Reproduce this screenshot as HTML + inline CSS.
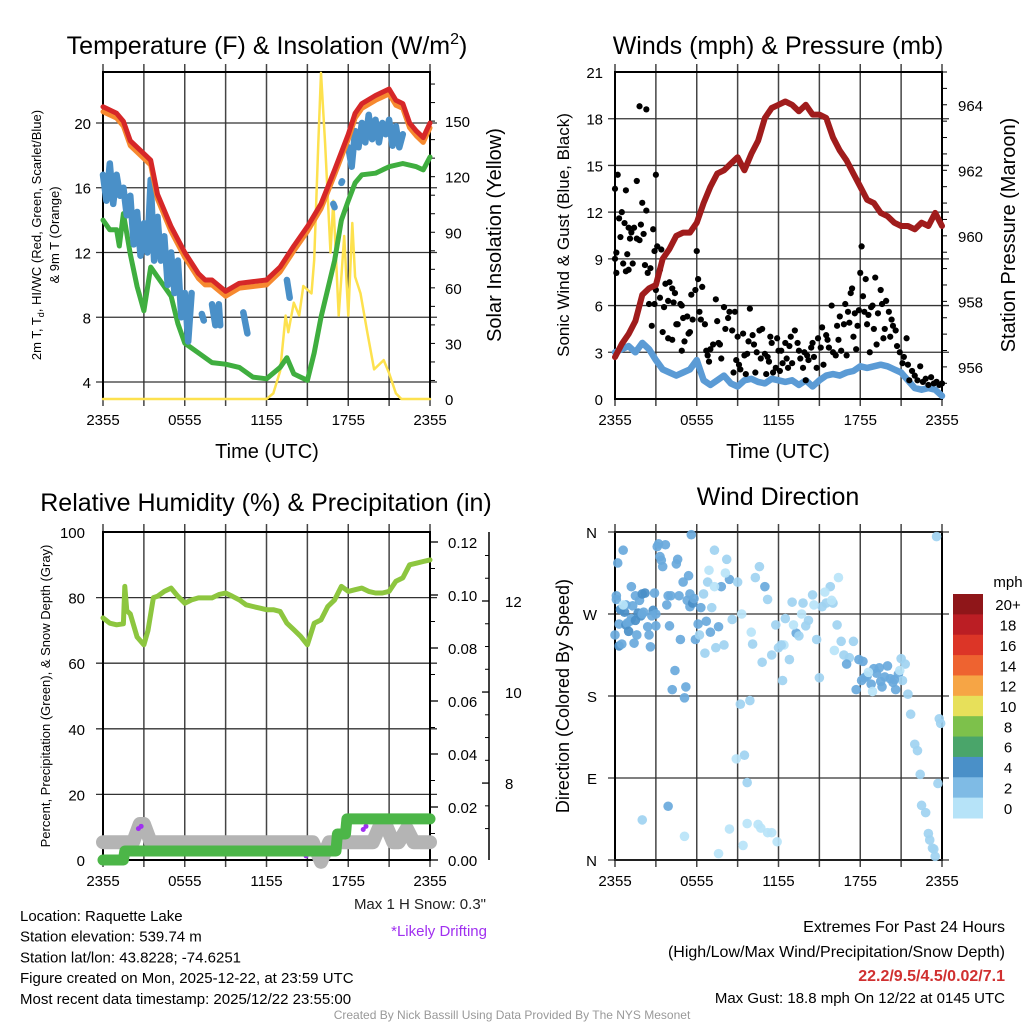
<!DOCTYPE html>
<html><head><meta charset="utf-8"><style>
body{margin:0;background:#fff;width:1024px;height:1024px;overflow:hidden;font-family:"Liberation Sans",sans-serif}
svg{display:block}
</style></head><body>
<svg id="c" width="1024" height="1024" viewBox="0 0 1024 1024" xmlns="http://www.w3.org/2000/svg" font-family="Liberation Sans, sans-serif"></svg>
<script>
// ---------- DATA ----------
const hourTicks = ["2355","0555","1155","1755","2355"];
const tempHours = [0,1,1.5,2,3,3.5,4,5,6,7,7.5,8,9,10,11,12,13,14,15,16,17,18,18.5,19,20,21,21.5,22,22.5,23,23.5,24];
const tempRed = [21.0,20.6,20.1,18.9,18.1,17.7,15.6,13.6,12.0,10.7,10.3,10.3,9.6,10.1,10.2,10.3,11.1,12.4,13.6,15.0,17.1,19.3,20.6,21.2,21.7,22.1,21.4,21.2,20.0,19.5,19.1,20.0];
const tempOrange = [20.7,20.3,19.8,18.6,17.8,17.4,15.3,13.3,11.7,10.4,10.0,10.0,9.3,9.8,9.9,10.0,10.8,12.1,13.3,14.7,16.8,19.0,20.3,20.9,21.4,21.8,21.1,20.9,19.7,19.2,18.8,19.7];
const tdHours = [0,0.5,1,1.2,1.5,2,2.5,3,3.5,4,5,5.5,6,7,8,9,10,11,12,13,13.5,14,15,15.5,16,17,17.5,18,18.5,19,20,21,22,23,23.5,24];
const tdGreen = [14.0,13.4,13.4,12.4,14.4,11.9,9.9,8.4,11.1,10.5,9.3,7.6,6.4,5.8,5.2,5.1,4.9,4.3,4.2,4.9,5.5,4.5,4.1,5.8,8.0,11.5,14.0,15.2,16.3,16.8,16.9,17.3,17.5,17.3,17.1,17.9];
const wcHours = [0,0.25,0.5,0.75,1,1.25,1.5,1.75,2,2.25,2.5,2.75,3,3.25,3.5,3.75,4,4.25,4.5,4.75,5,5.25,5.5,5.75,6,6.25,6.5,6.6,7.25,7.4,7.5,8,8.25,8.5,8.6,8.7,10.3,10.6,10.7,13.5,13.7,13.8,16.9,17.0,17.1,17.5,17.55,17.6,18,18.25,18.5,18.75,19,19.25,19.5,19.75,20,20.25,20.5,20.75,21,21.25,21.5,21.75,22];
const wcBlue = [16.8,15.2,17.5,15,16.8,15.5,16,14.3,15.5,12.5,14.5,11.8,13.8,12,16.5,11.5,14.2,11.5,13,10,12,9.5,11.5,8,9.5,6.5,9.5,null,8.2,7.8,null,8.8,7.5,8.8,7.5,null,8.3,7.0,null,10.3,9.2,null,15.0,14.8,null,16.3,16.4,null,18.5,17.3,19.5,18.5,20,18.8,20.5,19,20.2,18.8,20,19.3,20.2,18.6,19.8,18.5,19.3];
const solarHours = [0,12,12.5,13,13.4,13.6,14,14.4,14.7,15.3,15.5,15.8,16.0,16.3,16.7,16.9,17.3,17.7,18.0,18.3,18.5,18.9,19.4,19.9,20.6,21.0,21.5,21.9,24];
const solarVals = [0,0,3,15,45,36,52,45,61,57,75,138,176,138,79,107,45,88,45,95,66,57,36,16,21,14,3,0,0];

const presHours = [0,0.5,1,1.5,2,2.5,3,3.5,4,4.5,5,5.5,6,6.5,7,7.5,8,8.5,9,9.5,10,10.5,11,11.5,12,12.5,13,13.5,14,14.5,15,15.5,16,16.5,17,17.5,18,18.5,19,19.5,20,20.5,21,21.5,22,22.5,23,23.5,24];
const presVals = [956.3,956.7,957.0,957.4,958.2,958.4,958.5,959.3,959.6,960.0,960.1,960.1,960.4,961.0,961.5,961.9,962.0,962.2,962.4,962.0,962.5,962.9,963.6,963.9,964.0,964.1,964.0,963.8,964.0,963.7,963.7,963.6,963.0,962.6,962.3,961.9,961.5,961.1,961.0,960.7,960.6,960.4,960.3,960.3,960.2,960.4,960.3,960.7,960.3];
const windVals = [3.0,3.2,3.4,3.0,3.6,3.2,2.5,1.9,1.7,1.5,1.7,1.9,2.5,1.2,0.9,1.2,1.5,1.0,0.8,1.2,1.3,1.1,1.0,1.3,1.2,1.1,1.2,0.9,1.2,0.8,1.2,1.5,1.6,1.5,1.7,1.8,2.1,2.0,2.1,2.2,2.1,1.9,1.7,1.2,0.7,0.6,0.7,0.6,0.2];
const gustHours = [0,0,0.1,0.1,0.2,0.3,0.4,0.5,0.6,0.7,0.8,0.8,0.9,1,1,1.1,1.2,1.3,1.4,1.6,1.6,1.8,1.9,2,2.1,2.2,2.3,2.4,1.8,2.3,2.5,2.6,2.7,2.8,2.9,2.9,3.0,3.0,3.1,3.3,3.3,3.4,3.5,3.6,3.7,3.9,3.9,4.0,4.2,4.2,4.3,4.4,4.5,4.6,4.8,4.9,4.9,5.0,5.1,5.3,5.4,5.5,5.6,5.7,5.9,6.0,6.1,6.2,6.3,6.4,6.6,6.7,6.8,6.9,7.0,7.2,7.4,7.5,7.6,7.7,7.8,8.0,8.1,8.3,8.4,8.6,8.7,8.8,8.9,9.0,9.1,9.2,9.4,9.5,9.6,9.7,9.8,9.9,10.1,10.2,10.3,10.4,10.6,10.7,10.8,11.0,11.1,11.2,11.3,11.4,11.5,11.6,11.8,11.9,12.0,12.1,12.2,12.3,12.5,12.6,12.7,12.8,12.9,13.0,13.2,13.4,13.5,13.6,13.8,13.9,14.0,14.1,14.2,14.4,14.5,14.6,14.8,14.9,15.1,15.2,15.3,15.5,15.6,15.7,15.9,16.0,16.2,16.3,16.4,16.5,16.6,16.8,16.9,17.0,17.1,17.2,17.3,17.4,17.5,17.6,17.7,17.8,17.9,18.0,18.1,18.2,18.3,18.4,18.5,18.6,18.7,18.8,18.9,19.0,19.1,19.2,19.3,19.5,19.6,19.7,19.8,19.9,20.1,20.2,20.3,20.4,20.6,20.7,20.9,21.1,21.2,21.4,21.5,21.6,21.8,22.0,22.2,22.4,22.6,22.8,23.0,23.2,23.4,23.6,23.8,24];
const gustVals = [13.5,9,8.1,9.4,14.4,11.6,10.4,12,8.7,11.3,13.4,8.2,9.3,11,8.3,10.3,10.7,8.7,11,14,10.3,10.2,11.2,12.6,10.6,8.6,12.1,8.1,18.8,18.6,6.1,8.4,4.7,10.9,6.1,9.5,7,14.4,9.8,8.3,6.5,9.6,4.3,5.9,7.4,6.3,3.9,7.5,7.1,3.8,6.2,6.8,4.8,4.8,6.1,6.0,3.1,5.2,3.7,5.3,4.2,4.3,6.7,5.1,7.0,9.5,7.7,5.6,5.1,7.2,4.8,3.1,2.8,2.4,3.2,3.5,6.4,5.0,3.6,3.5,2.6,5.9,4.5,5.2,5.6,4.4,1.7,5.6,2.5,4.0,2.2,1.9,4.2,2.8,1.6,2.9,3.7,5.8,4.1,3.5,1.7,3.0,4.4,2.6,4.5,2.9,1.6,2.7,2.4,4.0,3.6,1.7,2.0,3.9,3.1,1.8,3.1,2.3,3.6,2.6,2.0,3.4,4.0,2.3,4.4,3.6,3.1,2.6,2.0,3.0,1.2,2.8,2.5,3.3,3.6,2.7,2.0,3.9,3.3,4.6,2.2,4.1,3.8,3.3,6.0,3.0,2.8,4.7,3.8,5.3,3.1,4.8,6.1,2.8,5.6,4.9,6.8,7.1,4.0,5.5,3.2,4.7,5.7,8.1,9.8,6.6,5.6,7.7,4.8,5.4,3.0,5.9,6.0,4.5,7.8,3.5,5.5,7.0,6.1,3.9,4.5,6.3,5.6,4.0,5.1,4.7,4.4,3.4,3.0,2.3,2.7,3.9,2.2,1.2,1.8,1.5,1.2,2.1,1.1,1.3,0.9,1.4,1.0,1.1,0.9,1.0];

const rhHours = [0,0.5,1,1.5,1.6,1.75,2,2.5,3,3.3,3.7,4,4.5,5,5.5,6,6.5,7,7.5,8,8.5,9,9.5,10,10.5,11,11.5,12,12.5,13,13.5,14,14.5,15,15.5,16,16.5,17,17.5,18,18.5,19,19.5,20,20.5,21,21.5,22,22.5,23,23.5,24];
const rhVals = [73.8,72.2,71.7,72,83.4,76,75,68,65.6,70,80,80.4,81.9,82.9,80.4,78.3,79.3,79.9,79.9,79.9,80.9,81.4,80.4,79.3,77.8,77.3,76.8,76.3,76.3,75.8,72.2,70.2,68.2,65.6,72.2,73.2,77.3,79.3,83.4,81.9,82.4,82.9,81.9,81.4,81.4,81.9,85.0,86,90,90.5,91,91.5];
const precipHours = [0,1.5,1.6,17.1,17.2,17.8,17.9,24];
const precipVals = [0.0,0.0,0.0034,0.0034,0.0098,0.0098,0.0155,0.0155];
const snowHours = [0,2.2,2.7,3.0,3.5,15.4,16.0,16.6,19.8,20.3,20.8,21.3,21.7,22.3,22.8,23.2,24];
const snowVals = [6.7,6.7,7.1,7.1,6.7,6.7,6.27,6.7,6.7,7.05,7.05,6.7,6.7,7.0,6.7,6.7,6.7];
const driftHours = [2.6,2.8,14.9,19.1,19.3];
const driftVals = [7.0,7.05,6.4,6.98,7.05];

const dirHours = [0,0.1,0.1,0.2,0.3,0.3,0.4,0.5,0.6,0.7,0.8,0.8,0.9,1,1.1,1.2,1.3,1.4,1.5,1.5,1.6,1.7,1.8,1.9,2,2,2.1,2.2,2.4,2.5,2.6,2.8,2.9,3.0,3.0,3.1,3.2,3.3,3.4,3.5,3.7,3.8,3.9,4.0,4.1,4.2,4.4,4.5,4.7,4.8,5.0,5.1,5.2,5.3,5.4,5.5,5.6,5.7,5.8,5.9,6.1,6.2,6.3,6.5,6.6,6.8,7.0,7.1,7.3,7.4,7.6,7.8,8.0,8.2,8.4,8.6,9.0,9.2,9.5,9.7,8.9,9.9,10.1,10.3,10.6,10.8,11.0,11.2,11.5,11.8,12.0,12.3,12.5,12.8,13.0,13.3,13.5,13.8,14.0,14.2,14.5,14.8,15.0,15.2,15.5,15.8,16.0,16.3,16.6,16.8,17.2,17.5,17.7,17.9,18.1,18.3,18.5,18.8,19.0,19.2,19.5,19.8,20.0,20.2,20.4,20.6,20.8,21.0,21.1,21.3,21.5,21.7,22.0,22.2,22.4,22.5,22.8,23.0,23.1,23.3,23.4,23.5,23.6,23.8,23.9,23.7,2.0,3.9,5.1,7.6,8.4,9.4,9.7,10.5,10.7,11.2,11.5,11.9,18.9,19.6,17.0,16.1,6.9,7.3,9.3,10.0,12.4,13.1,14.6,15.4,16.4,18.6,19.4,20.5,0.6,1.2,2.7,4.6,5.5,6.7,8.1,12.2,13.7,15.9,18.2,20.9];
const dirDeg = [247,286,290,326,259,235,275,237,340,272,258,280,260,251,262,265,279,238,263,290,247,271,285,268,292,270,272,293,256,247,234,274,293,270,257,344,347,333,329,322,346,280,290,257,290,187,208,325,290,242,305,178,190,285,312,278,357,282,287,242,259,247,277,292,227,305,250,277,340,233,256,300,236,330,308,264,305,171,115,85,111,175,237,310,322,217,300,286,225,258,233,197,265,220,283,249,246,282,257,263,291,242,200,278,282,300,282,258,240,225,222,240,187,220,197,200,202,193,210,205,196,201,213,199,195,187,204,221,197,215,182,160,127,120,94,60,52,29,22,13,12,4,355,155,150,84,44,59,26,7,34,16,40,39,35,30,30,20,185,190,215,230,318,300,270,250,236,258,280,294,310,206,211,198,280,300,268,330,292,262,315,236,270,285,218,208];
const dirSpeed = [3,3,3,3,3,4,4,3,3,4,4,3,3,4,3,3,3,3,4,3,3,4,3,4,4,3,3,4,3,3,3,4,3,3,3,3,3,3,3,3,3,3,3,3,3,3,3,3,3,3,3,3,3,3,3,3,3,4,3,3,3,2,3,2,2,2,3,2,2,2,3,3,2,2,3,2,2,2,2,2,1,2,2,2,2,2,3,2,2,2,2,2,2,2,2,3,2,2,2,2,2,2,2,2,2,2,2,2,2,2,2,2,3,3,3,3,3,3,3,3,3,3,3,3,3,3,3,2,2,2,2,2,2,2,2,2,2,2,2,2,2,2,2,2,2,2,2,3,1,1,1,1,1,1,1,1,1,1,1,3,3,1,1,1,1,1,1,1,1,1,1,1,3,3,1,3,3,3,3,3,1,2,1,1,3,1];

const cbLabels = ["20+","18","16","14","12","10","8","6","4","2","0"];
const cbColors = ["#8f1619","#bb1e24","#dc3527","#ee6330","#f6a545","#e7e05a","#7dc14b","#4aa56a","#4a90c8","#7fbbe5","#b6e3f8"];

// ---------- HELPERS ----------
const svg = document.getElementById('c');
const NS = 'http://www.w3.org/2000/svg';
function mk(tag, attrs, name, parent) {
  const el = document.createElementNS(NS, tag);
  for (const k in attrs) el.setAttribute(k, attrs[k]);
  
  
  (parent || svg).appendChild(el);
  return el;
}
function txt(x, y, s, size, name, opts) {
  opts = opts || {};
  const t = mk('text', {x: x, y: y, 'font-size': size, fill: opts.fill || '#000', 'text-anchor': opts.anchor || 'start', 'font-weight': opts.weight || 'normal'}, name);
  if (opts.rot) t.setAttribute('transform', 'rotate(-90 ' + x + ' ' + y + ')');
  t.textContent = s;
  return t;
}
function lin(d0, d1, r0, r1) { return v => r0 + (v - d0) / (d1 - d0) * (r1 - r0); }
function line(xs, ys, sx, sy, color, w, name) {
  let segs = [], cur = [];
  for (let i = 0; i < xs.length; i++) {
    if (ys[i] === null) { if (cur.length) segs.push(cur); cur = []; continue; }
    cur.push(sx(xs[i]).toFixed(1) + ',' + sy(ys[i]).toFixed(1));
  }
  if (cur.length) segs.push(cur);
  segs.forEach(s => {
    if (s.length === 1) s.push(s[0]);
    mk('polyline', {points: s.join(' '), fill: 'none', stroke: color, 'stroke-width': w, 'stroke-linejoin': 'round', 'stroke-linecap': 'round'}, name);
  });
}
function frame(x0, x1, y0, y1, name, hgrid) {
  const sx = lin(0, 24, x0, x1);
  for (let h = 0; h <= 24; h += 3) {
    mk('line', {x1: sx(h), x2: sx(h), y1: y0 - 8, y2: y1 + 7, stroke: '#444', 'stroke-width': 1.5}, name + '-vgrid');
  }
  hgrid.forEach(y => mk('line', {x1: x0 - 7, x2: x1 + 7, y1: y, y2: y, stroke: '#333', 'stroke-width': 1.3}, name + '-hgrid'));
  mk('rect', {x: x0, y: y0, width: x1 - x0, height: y1 - y0, fill: 'none', stroke: '#000', 'stroke-width': 2}, name + '-frame');
  hourTicks.forEach((t, i) => txt(sx(i * 6), y1 + 26, t, 15, name + '-x-tick', {anchor: 'middle'}));
  return sx;
}

// ---------- TOP-LEFT: Temperature ----------
(function(){
  const x0 = 103, x1 = 430, y0 = 72, y1 = 399;
  const sy = lin(2.95, 23.15, y1, y0);
  const ss = lin(0, 176.5, y1, y0);
  const sx = frame(x0, x1, y0, y1, 'temp', [4,8,12,16,20].map(sy));
  [4,8,12,16,20].forEach(v => txt(x0 - 12, sy(v) + 6, String(v), 15, 'temp-y-tick', {anchor: 'end'}));
  [0,30,60,90,120,150].forEach(v => txt(x1 + 15, ss(v) + 6, String(v), 15, 'solar-y-tick'));
  for (let v = 10; v <= 170; v += 10) mk('line', {x1: x1, x2: x1 + 5, y1: ss(v), y2: ss(v), stroke: '#000', 'stroke-width': 1}, 'solar-minor-tick');
  line(solarHours, solarVals, sx, ss, '#fde14e', 2.5, 'solar-line');
  line(tdHours, tdGreen, sx, sy, '#3fae3f', 5, 'dewpoint-line');
  line(wcHours, wcBlue, sx, sy, '#4a90c8', 6.5, 'windchill-line');
  line(tempHours, tempOrange, sx, sy, '#f6892f', 5, 'temp-9m-line');
  line(tempHours, tempRed, sx, sy, '#d62728', 5, 'temp-2m-line');
  const t = mk('text', {x: 0, y: 0, 'font-size': 25, 'text-anchor': 'middle', transform: 'translate(267,54)'}, 'temp-title');
  t.innerHTML = 'Temperature (F) &amp; Insolation (W/m<tspan dy="-10" font-size="16">2</tspan><tspan dy="10">)</tspan>';
  txt(267, 458, 'Time (UTC)', 20, 'temp-x-title', {anchor: 'middle'});
  const yl = mk('text', {x: 0, y: 0, 'font-size': 13, 'text-anchor': 'middle', transform: 'translate(41,235) rotate(-90)'}, 'temp-y-title');
  yl.innerHTML = '2m T, T<tspan dy="3" font-size="9">d</tspan><tspan dy="-3">, HI/WC (Red, Green, Scarlet/Blue)</tspan>';
  txt(59, 235, '& 9m T (Orange)', 13, 'temp-y-title-2', {anchor: 'middle', rot: true});
  txt(501, 235, 'Solar Insolation (Yellow)', 20, 'solar-y-title', {anchor: 'middle', rot: true});
})();

// ---------- TOP-RIGHT: Winds ----------
(function(){
  const x0 = 615, x1 = 942, y0 = 72, y1 = 399;
  const sy = lin(0, 21, y1, y0);
  const sp = lin(955.02, 965.0, y1, y0);
  const sx = frame(x0, x1, y0, y1, 'wind', [3,6,9,12,15,18].map(sy));
  [0,3,6,9,12,15,18,21].forEach(v => txt(x0 - 12, sy(v) + 6, String(v), 15, 'wind-y-tick', {anchor: 'end'}));
  [956,958,960,962,964].forEach(v => txt(x1 + 16, sp(v) + 6, String(v), 15, 'pressure-y-tick'));
  for (let v = 955.5; v <= 965; v += 0.5) mk('line', {x1: x1, x2: x1 + 5, y1: sp(v), y2: sp(v), stroke: '#000', 'stroke-width': 1}, 'pressure-minor-tick');
  line(presHours, windVals, sx, sy, '#5b9bd5', 6.5, 'wind-speed-line');
  gustHours.forEach((h, i) => {
    mk('circle', {cx: sx(h), cy: sy(gustVals[i]), r: 3.1, fill: '#000'}, 'gust-point');
  });
  line(presHours, presVals, sx, sp, '#a01c1c', 6, 'pressure-line');
  txt(778, 54, 'Winds (mph) & Pressure (mb)', 25, 'wind-title', {anchor: 'middle'});
  txt(778, 458, 'Time (UTC)', 20, 'wind-x-title', {anchor: 'middle'});
  txt(569, 235, 'Sonic Wind & Gust (Blue, Black)', 17, 'wind-y-title', {anchor: 'middle', rot: true});
  txt(1015, 235, 'Station Pressure (Maroon)', 20, 'pressure-y-title', {anchor: 'middle', rot: true});
})();

// ---------- BOTTOM-LEFT: RH ----------
(function(){
  const x0 = 103, x1 = 430, y0 = 532, y1 = 860;
  const sy = lin(0, 100, y1, y0);
  const spr = lin(0, 0.12, y1, 542);
  const ssn = lin(6.31, 12, y1, 601);
  const sx = frame(x0, x1, y0, y1, 'rh', [20,40,60,80].map(sy));
  [0,20,40,60,80,100].forEach(v => txt(x0 - 18, sy(v) + 6, String(v), 15, 'rh-y-tick', {anchor: 'end'}));
  [0,0.02,0.04,0.06,0.08,0.10,0.12].forEach(v => {
    mk('line', {x1: x1, x2: x1 + 8, y1: spr(v), y2: spr(v), stroke: '#000', 'stroke-width': 1.3}, 'precip-tick');
    txt(x1 + 18, spr(v) + 6, v.toFixed(2), 15, 'precip-y-tick');
  });
  for (let v = 0.01; v < 0.12; v += 0.02) mk('line', {x1: x1, x2: x1 + 5, y1: spr(v), y2: spr(v), stroke: '#000', 'stroke-width': 1}, 'precip-minor-tick');
  mk('line', {x1: 489, x2: 489, y1: y0, y2: y1, stroke: '#000', 'stroke-width': 1.5}, 'snow-axis');
  [8,10,12].forEach(v => {
    mk('line', {x1: 489, x2: 482, y1: ssn(v), y2: ssn(v), stroke: '#000', 'stroke-width': 1.3}, 'snow-tick');
    txt(505, ssn(v) + 6, String(v), 15, 'snow-y-tick');
  });
  for (let v = 7; v < 13.5; v += 0.5) if (v % 2) mk('line', {x1: 489, x2: 485, y1: ssn(v), y2: ssn(v), stroke: '#000', 'stroke-width': 1}, 'snow-minor-tick');
  line(snowHours, snowVals, sx, ssn, '#b4b4b4', 14, 'snow-depth-line');
  driftHours.forEach((h, i) => mk('circle', {cx: sx(h), cy: ssn(driftVals[i]), r: 2.5, fill: '#a030f0'}, 'drift-marker'));
  line(precipHours, precipVals, sx, spr, '#4cb648', 11, 'precip-line');
  line(rhHours, rhVals, sx, sy, '#8dc63f', 5, 'rh-line');
  txt(266, 511, 'Relative Humidity (%) & Precipitation (in)', 25, 'rh-title', {anchor: 'middle'});
  txt(50, 696, 'Percent, Precipitation (Green), & Snow Depth (Gray)', 13, 'rh-y-title', {anchor: 'middle', rot: true});
})();

// ---------- BOTTOM-RIGHT: Direction ----------
(function(){
  const x0 = 615, x1 = 942, y0 = 532, y1 = 860;
  const sy = lin(0, 360, y1, y0);
  const sx = frame(x0, x1, y0, y1, 'dir', [90,180,270].map(sy));
  mk('line', {x1: x0 - 7, x2: x1 + 7, y1: y0, y2: y0, stroke: '#333', 'stroke-width': 1.3}, 'dir-hgrid');
  mk('line', {x1: x0 - 7, x2: x1 + 7, y1: y1, y2: y1, stroke: '#333', 'stroke-width': 1.3}, 'dir-hgrid');
  const lab = ['N','E','S','W','N'];
  [0,90,180,270,360].forEach((v, i) => txt(x0 - 18, sy(v) + 6, lab[i], 15, 'dir-y-tick', {anchor: 'end'}));
  dirHours.forEach((h, i) => {
    const s = dirSpeed[i];
    const col = s >= 4 ? '#4a8fc8' : s >= 3 ? '#69a9dc' : s >= 2 ? '#9fd2f1' : '#b9e4f8';
    mk('circle', {cx: sx(h), cy: sy(dirDeg[i]), r: 4.8, fill: col, opacity: 0.92}, 'dir-point');
  });
  txt(778, 505, 'Wind Direction', 25, 'dir-title', {anchor: 'middle'});
  txt(569, 696, 'Direction (Colored By Speed)', 18, 'dir-y-title', {anchor: 'middle', rot: true});
  const bx = 953, by = 594, bh = 224 / cbColors.length;
  cbColors.forEach((c, i) => {
    mk('rect', {x: bx, y: by + i * bh, width: 30, height: bh + 0.5, fill: c}, 'colorbar-box');
    txt(1008, by + i * bh + bh / 2 + 6, cbLabels[i], 15, 'colorbar-label', {anchor: 'middle'});
  });
  txt(1008, 587, 'mph', 15, 'colorbar-title', {anchor: 'middle'});
})();

// ---------- TEXT ----------
const info = ['Location: Raquette Lake','Station elevation: 539.74 m','Station lat/lon: 43.8228; -74.6251','Figure created on Mon, 2025-12-22, at 23:59 UTC','Most recent data timestamp: 2025/12/22 23:55:00'];
info.forEach((s, i) => txt(20, 921 + i * 20.7, s, 15, 'station-info-line'));
txt(486, 909, 'Max 1 H Snow: 0.3"', 15, 'max-snow-text', {anchor: 'end', fill: '#222'});
txt(487, 936, '*Likely Drifting', 15, 'drifting-note', {anchor: 'end', fill: '#a030f0'});
txt(1005, 932, 'Extremes For Past 24 Hours', 16, 'extremes-title', {anchor: 'end'});
txt(1005, 957, '(High/Low/Max Wind/Precipitation/Snow Depth)', 16, 'extremes-subtitle', {anchor: 'end'});
txt(1005, 981, '22.2/9.5/4.5/0.02/7.1', 16, 'extremes-values', {anchor: 'end', fill: '#d03030', weight: 'bold'});
txt(1005, 1003, 'Max Gust: 18.8 mph On 12/22 at 0145 UTC', 15, 'max-gust-text', {anchor: 'end'});
txt(512, 1019, 'Created By Nick Bassill Using Data Provided By The NYS Mesonet', 12, 'credit-text', {anchor: 'middle', fill: '#999'});
</script>
</body></html>
